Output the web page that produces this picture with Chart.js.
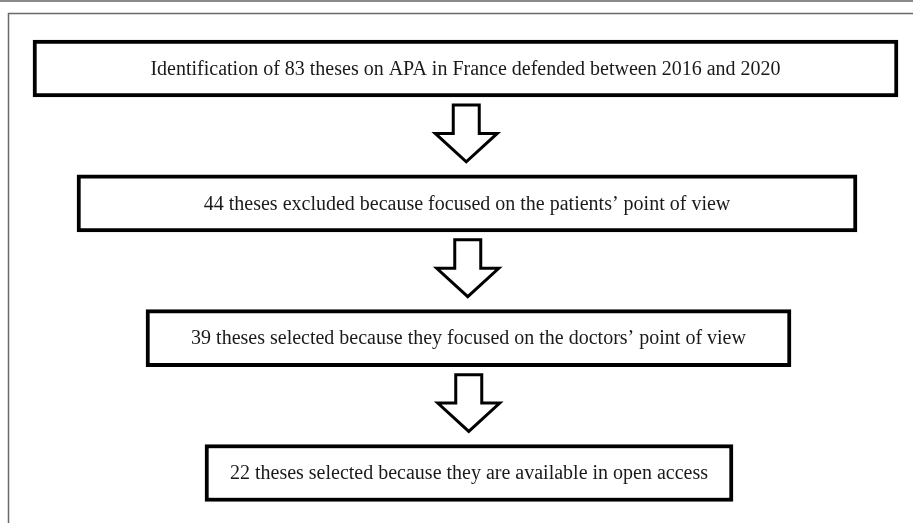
<!DOCTYPE html>
<html lang="en">
<head>
    <meta charset="UTF-8">
    <title>Selection of theses on APA</title>
    <script src="https://cdn.jsdelivr.net/npm/chart.js"></script>
    <style>
        html, body { margin: 0; padding: 0; background: #fff; }
        #wrap { width: 913px; height: 523px; }
    </style>
</head>
<body>
    <div id="wrap"><canvas id="flow"></canvas></div>

    <script>
        // steps of the selection, top to bottom
        const steps = [
            'Identification of 83 theses on APA in France defended between 2016 and 2020',
            '44 theses excluded because focused on the patients\u2019 point of view',
            '39 theses selected because they focused on the doctors\u2019 point of view',
            '22 theses selected because they are available in open access'
        ];
        const thesesCount = [83, 44, 39, 22];

        // horizontal extent of each box (in x-scale units, 0..913)
        const boxLeft = [33, 77, 146, 205];
        const boxRight = [898, 857, 791, 733];

        const canvas = document.getElementById('flow');

        // frame lines behind the diagram
        const framePlugin = {
            id: 'frame',
            beforeDraw(chart) {
                const ctx = chart.ctx;
                ctx.save();
                ctx.fillStyle = '#fff';
                ctx.fillRect(0, 0, chart.width, chart.height);
                ctx.strokeStyle = '#8a8a8a';
                ctx.lineWidth = 2;
                ctx.beginPath();
                ctx.moveTo(0, 1);
                ctx.lineTo(chart.width, 1);
                ctx.stroke();
                ctx.strokeStyle = '#6a6a6a';
                ctx.lineWidth = 1.5;
                ctx.beginPath();
                ctx.moveTo(8.5, chart.height);
                ctx.lineTo(8.5, 13.5);
                ctx.lineTo(chart.width, 13.5);
                ctx.stroke();
                ctx.restore();
            }
        };

        // hollow arrows between boxes + the text inside each box
        const flowPlugin = {
            id: 'flow',
            afterDatasetsDraw(chart) {
                const ctx = chart.ctx;
                const bars = chart.getDatasetMeta(0).data;
                ctx.save();

                for (let i = 0; i < bars.length - 1; i++) {
                    const a = bars[i], b = bars[i + 1];
                    const cx = (a.x + a.base + b.x + b.base) / 4;
                    const top = a.y + a.height / 2 + 8;
                    const tip = b.y - b.height / 2 - 13;
                    const neck = top + (tip - top) * 0.5;
                    const sw = 13, hw = 31;
                    ctx.beginPath();
                    ctx.moveTo(cx - sw, top);
                    ctx.lineTo(cx + sw, top);
                    ctx.lineTo(cx + sw, neck);
                    ctx.lineTo(cx + hw, neck);
                    ctx.lineTo(cx, tip);
                    ctx.lineTo(cx - hw, neck);
                    ctx.lineTo(cx - sw, neck);
                    ctx.closePath();
                    ctx.fillStyle = '#fff';
                    ctx.fill();
                    ctx.lineWidth = 3;
                    ctx.lineJoin = 'miter';
                    ctx.strokeStyle = '#000';
                    ctx.stroke();
                }

                ctx.fillStyle = '#1a1a1a';
                ctx.font = '20px "Liberation Serif", "Times New Roman", serif';
                ctx.textAlign = 'center';
                ctx.textBaseline = 'middle';
                bars.forEach((bar, i) => {
                    const cx = (bar.x + bar.base) / 2;
                    ctx.fillText(chart.data.labels[i], cx, bar.y + 1);
                });
                ctx.restore();
            }
        };

        new Chart(canvas, {
            type: 'bar',
            data: {
                labels: steps,
                datasets: [{
                    label: 'Theses',
                    data: steps.map((s, i) => ({ y: i, x: [boxLeft[i], boxRight[i]], n: thesesCount[i] })),
                    backgroundColor: '#fff',
                    borderColor: '#000',
                    borderWidth: 4,
                    borderSkipped: false,
                    barThickness: 57
                }]
            },
            options: {
                indexAxis: 'y',
                responsive: true,
                maintainAspectRatio: false,
                animation: false,
                layout: { padding: 0 },
                plugins: {
                    legend: { display: false },
                    tooltip: { enabled: false }
                },
                scales: {
                    x: { type: 'linear', min: 0, max: 913, offset: false, display: false },
                    y: { type: 'linear', reverse: true, min: -0.508, max: 3.371, offset: false, display: false }
                }
            },
            plugins: [framePlugin, flowPlugin]
        });
    </script>
</body>
</html>
